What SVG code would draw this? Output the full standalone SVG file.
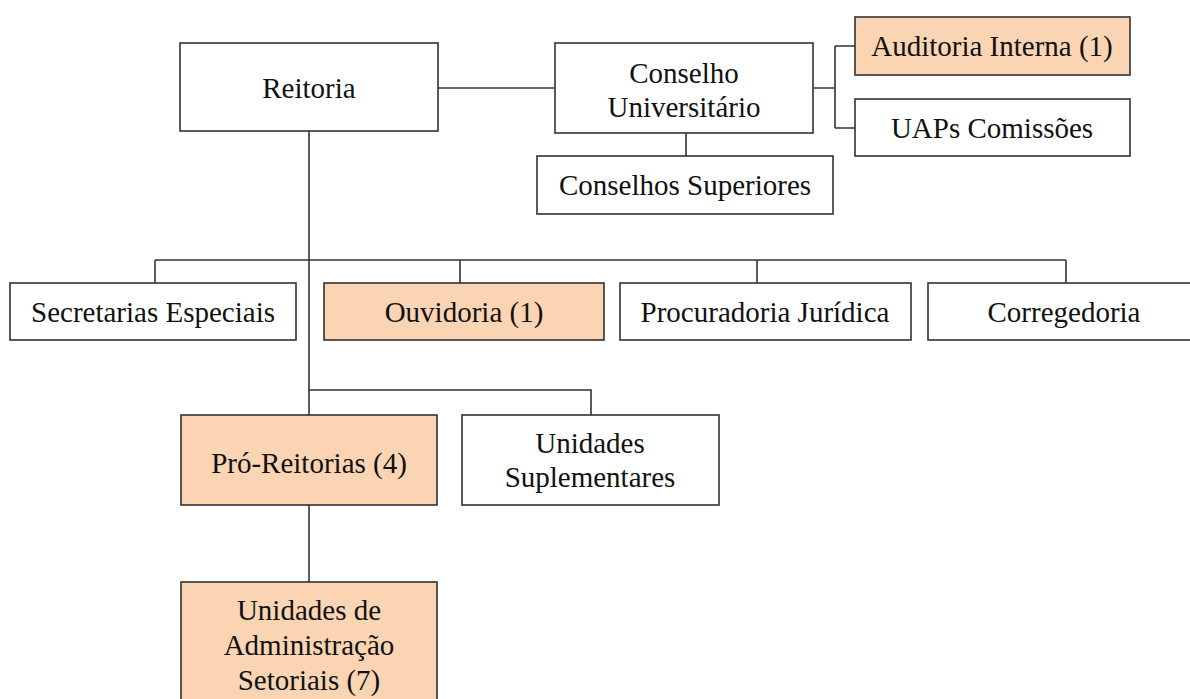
<svg xmlns="http://www.w3.org/2000/svg" width="1190" height="699" viewBox="0 0 1190 699">
<style>
.box{fill:#ffffff;stroke:#333333;stroke-width:1.6}
.hl{fill:#fbd4b4;stroke:#333333;stroke-width:1.6}
.t{font-family:"Liberation Serif","Times New Roman",serif;font-size:29px;fill:#111111;text-anchor:middle}
.c{fill:none;stroke:#333333;stroke-width:1.6}
</style>
<rect width="1190" height="699" fill="#ffffff"/>
<g id="connectors">
<path class="c" d="M438 88H555"/>
<path class="c" d="M813 88H835M835 46V128M835 46H855M835 128H855"/>
<path class="c" d="M686 133V156"/>
<path class="c" d="M309 131V415"/>
<path class="c" d="M155 260H1066M155 260V283M460 260V283M757 260V283M1066 260V283"/>
<path class="c" d="M309 390H591V415"/>
<path class="c" d="M309 505V582"/>
</g>
<g id="reitoria"><rect class="box" x="180" y="43" width="258" height="88"/><text class="t" x="309" y="98">Reitoria</text></g>
<g id="conselho-universitario"><rect class="box" x="555" y="43" width="258" height="90"/><text class="t" x="684" y="83">Conselho</text><text class="t" x="684" y="117">Universitário</text></g>
<g id="auditoria"><rect class="hl" x="855" y="17" width="275" height="58"/><text class="t" x="992" y="56">Auditoria Interna (1)</text></g>
<g id="uaps"><rect class="box" x="855" y="99" width="275" height="57"/><text class="t" x="992" y="138">UAPs Comissões</text></g>
<g id="conselhos-superiores"><rect class="box" x="537" y="156" width="296" height="58"/><text class="t" x="685" y="195">Conselhos Superiores</text></g>
<g id="secretarias"><rect class="box" x="10" y="283" width="286" height="57"/><text class="t" x="153" y="322">Secretarias Especiais</text></g>
<g id="ouvidoria"><rect class="hl" x="324" y="283" width="280" height="57"/><text class="t" x="464" y="322">Ouvidoria (1)</text></g>
<g id="procuradoria"><rect class="box" x="620" y="283" width="291" height="57"/><text class="t" x="765" y="322">Procuradoria Jurídica</text></g>
<g id="corregedoria"><rect class="box" x="928" y="283" width="266" height="57"/><text class="t" x="1064" y="322">Corregedoria</text></g>
<g id="pro-reitorias"><rect class="hl" x="181" y="415" width="256" height="90"/><text class="t" x="309" y="473">Pró-Reitorias (4)</text></g>
<g id="unidades-suplementares"><rect class="box" x="462" y="415" width="257" height="90"/><text class="t" x="590" y="453">Unidades</text><text class="t" x="590" y="487">Suplementares</text></g>
<g id="unidades-administracao"><rect class="hl" x="181" y="582" width="256" height="122"/><text class="t" x="309" y="620">Unidades de</text><text class="t" x="309" y="655">Administração</text><text class="t" x="309" y="690">Setoriais (7)</text></g>
</svg>
